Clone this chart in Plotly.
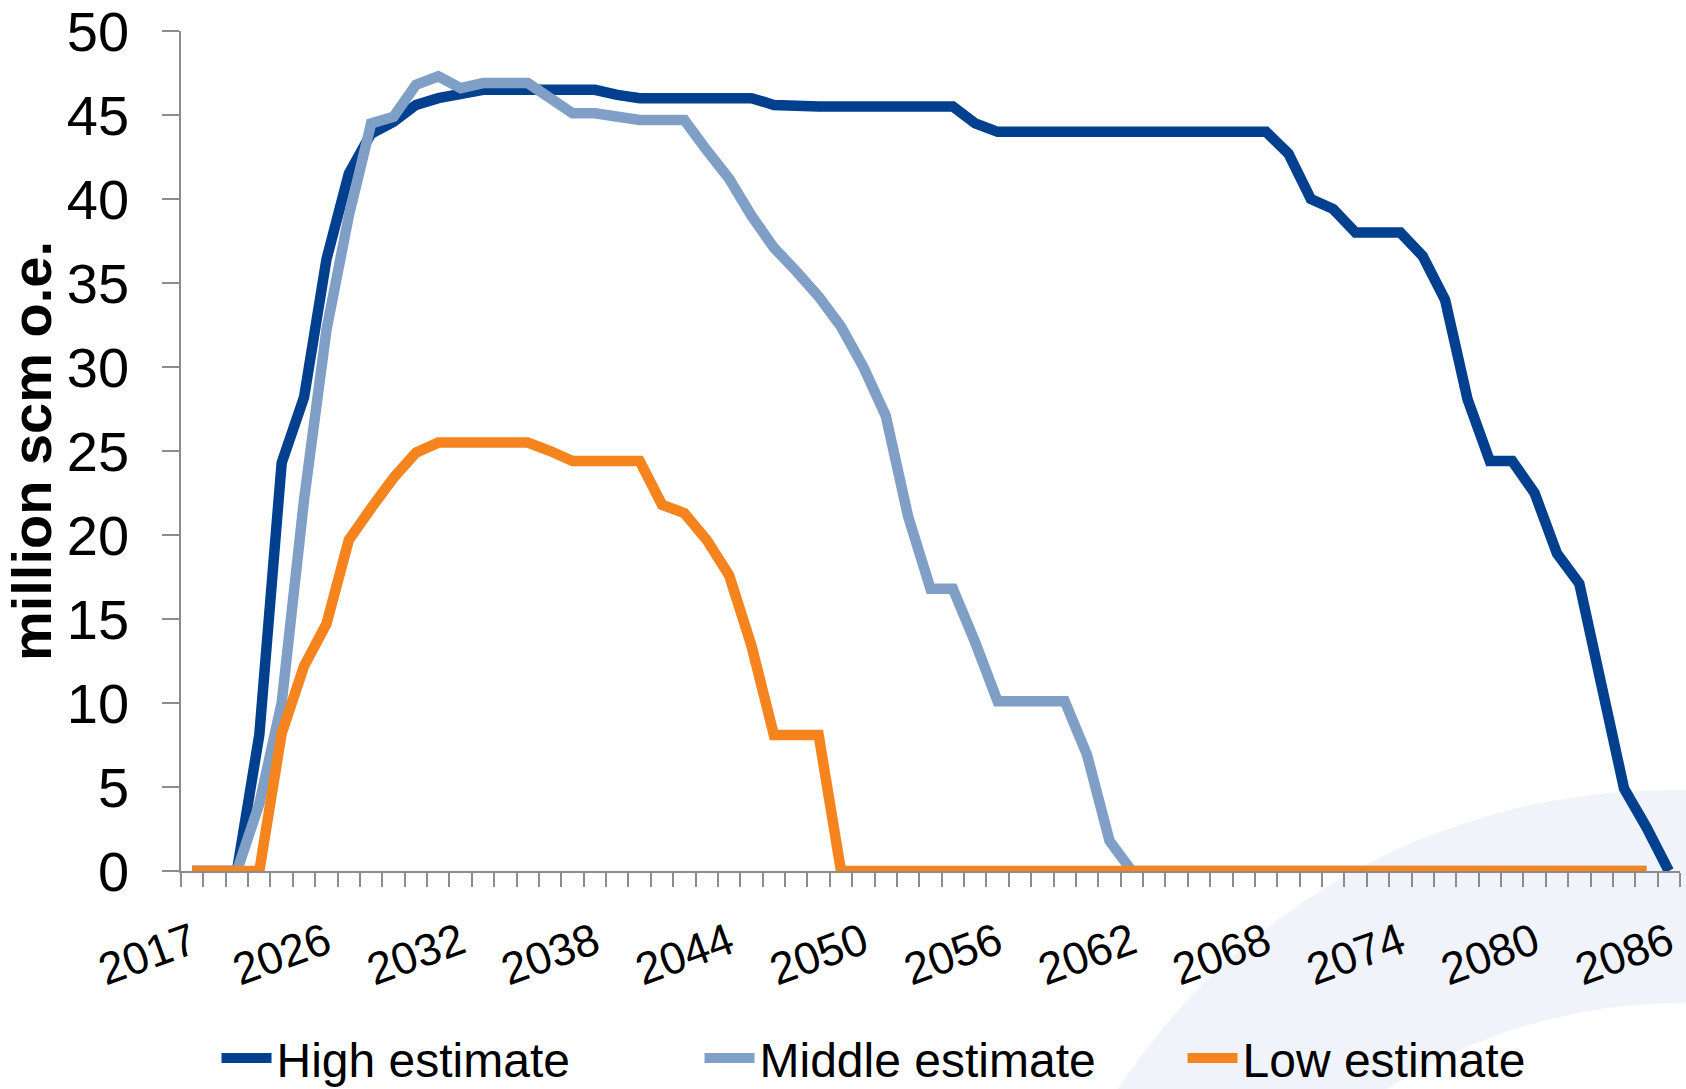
import plotly.graph_objects as go

# ---- data ----
years = ["2017"] + [str(y) for y in range(2021, 2087)]
label_years = ["2017", "2026", "2032", "2038", "2044", "2050", "2056",
               "2062", "2068", "2074", "2080", "2086"]

high = [0, 0, 0, 8.1, 24.3, 28.2, 36.4, 41.5, 43.9, 44.6,
        45.6, 46.0, 46.3, 46.5, 46.5, 46.5, 46.5, 46.5, 46.5, 46.2,
        46.0, 46.0, 46.0, 46.0, 46.0, 46.0, 45.6, 45.5, 45.5, 45.5,
        45.5, 45.5, 45.5, 45.5, 45.5, 44.5, 44.0, 44.0, 44.0, 44.0,
        44.0, 44.0, 44.0, 44.0, 44.0, 44.0, 44.0, 44.0, 44.0, 42.7,
        40.0, 39.4, 38.0, 38.0, 38.0, 36.6, 34.0, 28.1, 24.4, 24.4,
        22.5, 18.9, 17.1, 11.0, 4.9, 2.6, 0]

middle = [0, 0, 0, 4.0, 10.0, 22.1, 32.2, 39.0, 44.5, 44.9,
          46.8, 47.3, 46.6, 46.9, 46.9, 46.9, 46.0, 45.1, 45.1, 44.9,
          44.7, 44.7, 44.7, 42.9, 41.2, 39.0, 37.1, 35.7, 34.2, 32.4,
          30.0, 27.1, 21.1, 16.8, 16.8, 13.6, 10.1, 10.1, 10.1, 10.1,
          6.9, 1.8, 0, 0, 0, 0, 0, 0, 0, 0,
          0, 0, 0, 0, 0, 0, 0, 0, 0, 0,
          0, 0, 0, 0, 0, 0]

low = [0, 0, 0, 0, 8.2, 12.2, 14.7, 19.7, 21.6, 23.4,
       24.9, 25.5, 25.5, 25.5, 25.5, 25.5, 25.0, 24.4, 24.4, 24.4,
       24.4, 21.8, 21.3, 19.7, 17.6, 13.4, 8.1, 8.1, 8.1, 0,
       0, 0, 0, 0, 0, 0, 0, 0, 0, 0,
       0, 0, 0, 0, 0, 0, 0, 0, 0, 0,
       0, 0, 0, 0, 0, 0, 0, 0, 0, 0,
       0, 0, 0, 0, 0, 0]

series_names = ["High estimate", "Middle estimate", "Low estimate"]
series_colors = ["#00408E", "#7F9FC7", "#F5841F"]

FONT = "Liberation Sans, Arial, sans-serif"

fig = go.Figure()
for name, vals, col in zip(series_names, [high, middle, low], series_colors):
    fig.add_trace(go.Scatter(
        x=years[:len(vals)], y=vals, mode="lines", name=name,
        line=dict(color=col, width=10.5),
    ))

ticktext = [y if y in label_years else "" for y in years]

fig.update_layout(
    width=1686, height=1089,
    margin=dict(l=181, r=6, t=31, b=218, autoexpand=False),
    paper_bgcolor="white",
    plot_bgcolor="rgba(0,0,0,0)",
    font=dict(family=FONT, color="black"),
    showlegend=True,
    legend=dict(
        orientation="h", x=0.0237, xanchor="left", y=-0.223, yanchor="middle",
        font=dict(size=48, family=FONT, color="black"),
        entrywidthmode="pixels", entrywidth=418, itemwidth=50,
        bgcolor="rgba(0,0,0,0)",
    ),
    xaxis=dict(
        type="category", categoryorder="array", categoryarray=years,
        range=[-0.5, len(years) - 0.5],
        tickmode="array", tickvals=years, ticktext=ticktext,
        tickson="boundaries", ticks="outside", ticklen=14, tickwidth=1.5,
        tickcolor="#8C8C8C", showline=True, linecolor="#8C8C8C", linewidth=1.5,
        showgrid=False, zeroline=False, tickangle=-20,
        tickfont=dict(size=45, family=FONT, color="black"),
        ticklabelstandoff=26,
        layer="below traces",
    ),
    yaxis=dict(
        range=[0, 50], dtick=5, tick0=0,
        ticks="outside", ticklen=17, tickwidth=1.5, tickcolor="#8C8C8C",
        showline=True, linecolor="#8C8C8C", linewidth=1.5,
        showgrid=False, zeroline=False,
        tickfont=dict(size=56, family=FONT, color="black"),
        ticklabelstandoff=22, ticklabeloverflow="allow",
        title=dict(text="<b>million scm o.e.</b>",
                   font=dict(size=56, family=FONT, color="black"),
                   standoff=6),
    ),
)

# faint watermark arc in the lower right (decoration)
fig.add_shape(type="circle", xref="paper", yref="paper",
              x0=0.553, x1=1.435, y0=-1.477, y1=0.0964,
              fillcolor="#F1F3FA", line=dict(width=0), layer="below")
fig.add_shape(type="circle", xref="paper", yref="paper",
              x0=0.634, x1=1.370, y0=-1.469, y1=-0.157,
              fillcolor="white", line=dict(width=0), layer="below")

fig.write_html(
    "out.html",
    config={"displayModeBar": False},
    post_script="document.body.style.margin='0';document.body.style.overflow='hidden';",
)
